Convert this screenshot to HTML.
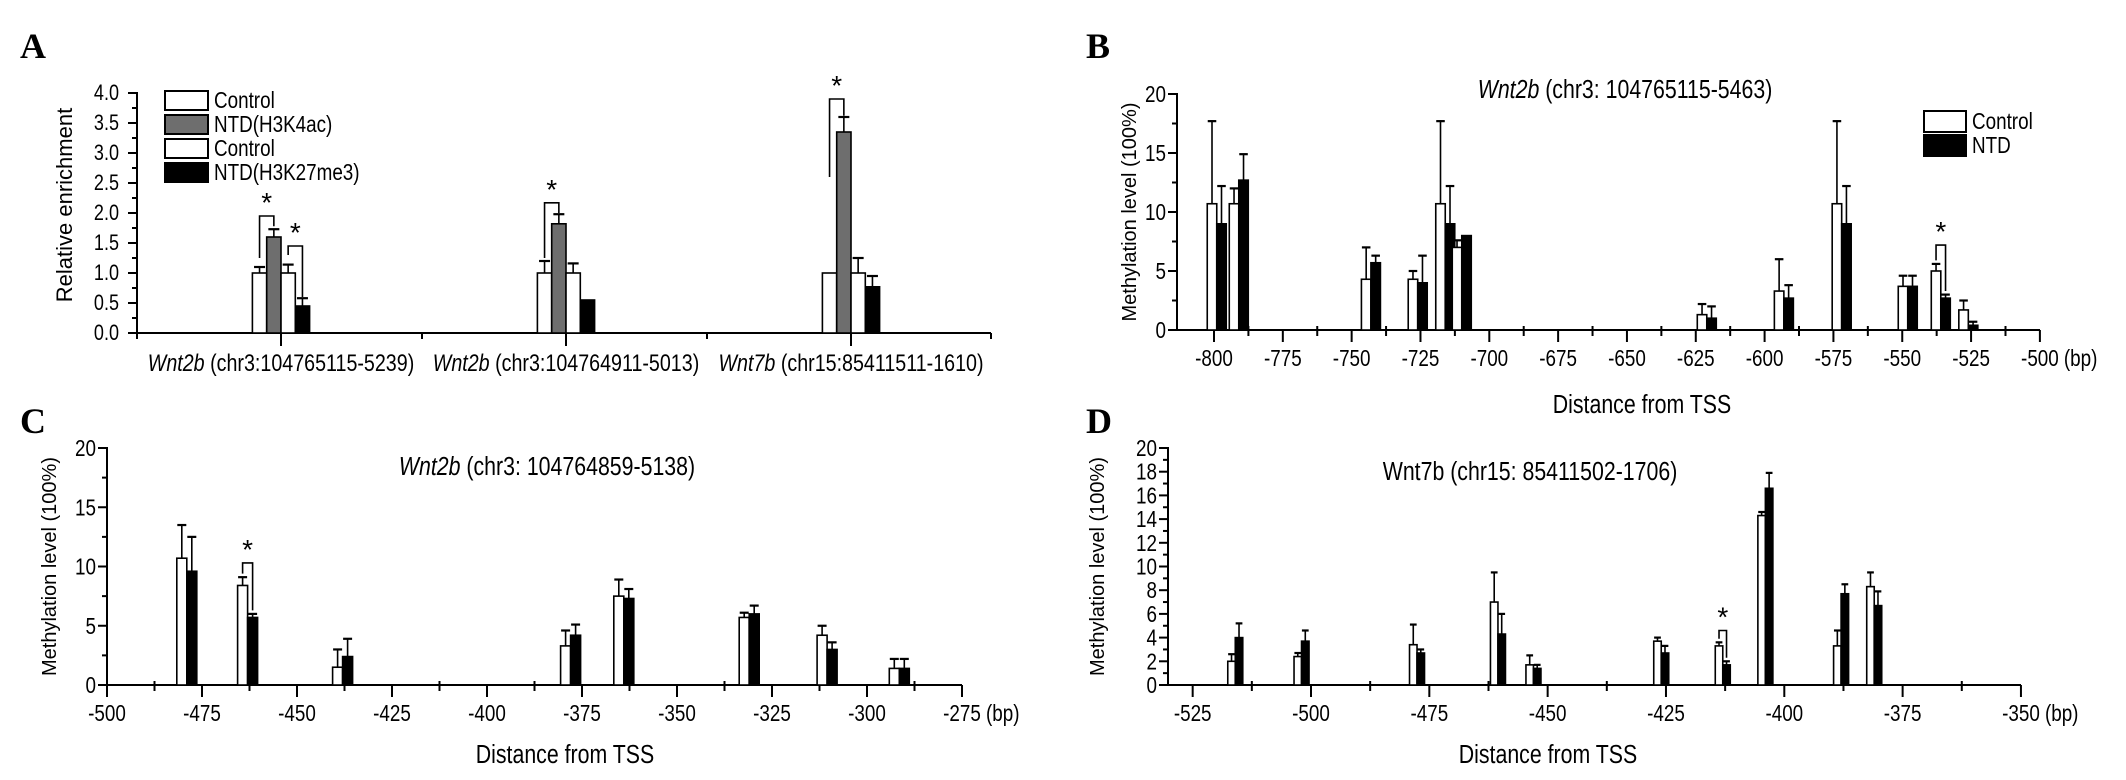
<!DOCTYPE html>
<html><head><meta charset="utf-8">
<style>
html,body{margin:0;padding:0;background:#fff;}
svg{display:block;}
.t{font-family:"Liberation Sans Narrow","Liberation Sans",Arial,sans-serif;fill:#000;}
.r{font-family:"Liberation Sans",Arial,sans-serif;fill:#000;}
.L{font-family:"Liberation Serif","Times New Roman",serif;font-weight:bold;fill:#000;}
</style></head>
<body>
<svg id="fig" width="2126" height="780" viewBox="0 0 2126 780" xmlns="http://www.w3.org/2000/svg"></svg>
<script>
// ---------- Panel A data ----------
const aCategories = ["Wnt2b|(chr3:104765115-5239)", "Wnt2b|(chr3:104764911-5013)", "Wnt7b|(chr15:85411511-1610)"];
const aCtrl1 = [1.0, 1.0, 1.0];
const aCtrl1Err = [0.10, 0.20, 0.0];
const aH3K4 = [1.60, 1.82, 3.35];
const aH3K4Err = [0.13, 0.16, 0.25];
const aCtrl2 = [1.0, 1.0, 1.0];
const aCtrl2Err = [0.14, 0.16, 0.25];
const aH3K27 = [0.45, 0.55, 0.77];
const aH3K27Err = [0.13, 0.0, 0.18];
const aYTicks = [0.0, 0.5, 1.0, 1.5, 2.0, 2.5, 3.0, 3.5, 4.0];
const aSigGroup = [0, 0, 1, 2];
const aSigLeftBar = [0, 2, 0, 0];
const aSigRightBar = [1, 3, 1, 1];
const aSigLeftFrom = [1.25, 1.30, 1.25, 2.6];
const aSigTop = [1.95, 1.45, 2.17, 3.9];
const aSigRightTo = [1.78, 0.60, 2.0, 3.62];

// ---------- Panel B data ----------
const bPos = [-799, -791, -743, -726, -716, -710, -621, -593, -572, -548, -536, -526];
const bCtrl = [10.7, 10.7, 4.3, 4.3, 10.7, 7.0, 1.3, 3.3, 10.7, 3.7, 5.0, 1.7];
const bCtrlSd = [7.0, 1.3, 2.7, 0.7, 7.0, 0.6, 0.9, 2.7, 7.0, 0.9, 0.6, 0.8];
const bNtd = [9.0, 12.7, 5.7, 4.0, 9.0, 8.0, 1.0, 2.7, 9.0, 3.7, 2.7, 0.4];
const bNtdSd = [3.2, 2.2, 0.6, 2.3, 3.2, 0.0, 1.0, 1.1, 3.2, 0.9, 0.3, 0.3];
const bXTicks = [-800, -775, -750, -725, -700, -675, -650, -625, -600, -575, -550, -525, -500];
const bYTicks = [0, 5, 10, 15, 20];
const bSig = [10];

// ---------- Panel C data ----------
const cPos = [-479, -463, -438, -378, -364, -331, -310.5, -291.5];
const cCtrl = [10.7, 8.4, 1.5, 3.3, 7.5, 5.7, 4.2, 1.4];
const cCtrlSd = [2.8, 0.7, 1.5, 1.3, 1.4, 0.4, 0.8, 0.8];
const cNtd = [9.6, 5.7, 2.4, 4.2, 7.3, 6.0, 3.0, 1.4];
const cNtdSd = [2.9, 0.3, 1.5, 0.9, 0.8, 0.7, 0.6, 0.8];
const cXTicks = [-500, -475, -450, -425, -400, -375, -350, -325, -300, -275];
const cYTicks = [0, 5, 10, 15, 20];
const cSig = [1];

// ---------- Panel D data ----------
const dPos = [-516, -502, -477.6, -460.5, -453, -426, -413, -404, -388, -381];
const dCtrl = [2.0, 2.4, 3.4, 7.0, 1.7, 3.7, 3.3, 14.3, 3.3, 8.3];
const dCtrlSd = [0.6, 0.3, 1.7, 2.5, 0.8, 0.3, 0.3, 0.3, 1.3, 1.2];
const dNtd = [4.0, 3.7, 2.7, 4.3, 1.4, 2.7, 1.7, 16.6, 7.7, 6.7];
const dNtdSd = [1.2, 0.9, 0.3, 1.7, 0.3, 0.6, 0.3, 1.3, 0.8, 1.2];
const dXTicks = [-525, -500, -475, -450, -425, -400, -375, -350];
const dYTicks = [0, 2, 4, 6, 8, 10, 12, 14, 16, 18, 20];
const dSig = [6];

const NS = 'http://www.w3.org/2000/svg';
const svg = document.getElementById('fig');
function mk(tag, attrs, parent) {
  const e = document.createElementNS(NS, tag);
  for (const k in attrs) e.setAttribute(k, attrs[k]);
  (parent || svg).appendChild(e);
  return e;
}
function line(x1, y1, x2, y2, w, name) {
  const e = mk('line', {x1: x1, y1: y1, x2: x2, y2: y2, stroke: '#000', 'stroke-width': w || 2});
  
  
  return e;
}
function text(str, x, y, size, cls, anchor, name, extra) {
  let attrs;
  if (cls === 't') {
    attrs = {x: 0, y: 0, 'font-size': size, 'class': cls, 'text-anchor': anchor || 'middle', transform: 'translate(' + x + ',' + y + ') scale(0.82,1)'};
  } else {
    attrs = {x: x, y: y, 'font-size': size, 'class': cls, 'text-anchor': anchor || 'middle'};
  }
  const e = mk('text', attrs);
  if (extra) for (const k in extra) e.setAttribute(k, extra[k]);
  e.textContent = str;
  
  
  return e;
}
function bar(x, y0, yv, w, fill, name) {
  const top = Math.min(y0, yv), h = Math.abs(y0 - yv);
  const e = mk('rect', {x: x, y: top, width: w, height: h, fill: fill, stroke: '#000', 'stroke-width': 1.6});
  
  
  return e;
}
function errbar(cx, yTop, yErr, cap, name) {
  if (Math.abs(yTop - yErr) < 0.5) return;
  const g = mk('g', {});
  
  
  mk('line', {x1: cx, y1: yTop, x2: cx, y2: yErr, stroke: '#000', 'stroke-width': 1.6}, g);
  mk('line', {x1: cx - cap / 2, y1: yErr, x2: cx + cap / 2, y2: yErr, stroke: '#000', 'stroke-width': 2.2}, g);
}
function bracket(xl, yl, yt, xr, yr, name) {
  const p = mk('path', {d: 'M' + xl + ' ' + yl + ' L' + xl + ' ' + yt + ' L' + xr + ' ' + yt + ' L' + xr + ' ' + yr, fill: 'none', stroke: '#000', 'stroke-width': 1.6});
  
  
  text('*', (xl + xr) / 2, yt - 4, 28, 'r', 'middle', 'significance-star');
}

// ================= Panel A =================
(function () {
  const yA = v => 333 - 60 * v;
  const centers = [281, 566, 851];
  const w = 14.3;
  text('A', 20, 58, 36, 'L', 'start', 'panel-label-a');
  line(137, yA(4.0) - 1, 137, yA(0) + 1, 2, 'a-y-axis');
  line(137, yA(0), 991, yA(0), 2, 'a-x-axis');
  for (let v = 0; v <= 4.0001; v += 0.25) {
    const major = Math.abs(v * 2 - Math.round(v * 2)) < 1e-6;
    line(137 - (major ? 9 : 5), yA(v), 137, yA(v), 2, 'a-y-tick');
  }
  aYTicks.forEach(v => text(v.toFixed(1), 119, yA(v) + 7, 22, 't', 'end', 'a-y-tick-label'));
  text('Relative enrichment', 0, 0, 22, 'r', 'middle', 'a-y-axis-title', {transform: 'translate(72,' + 205 + ') rotate(-90)'});
  [137, 422, 707, 991].forEach(x => line(x, yA(0), x, yA(0) + 6, 2, 'a-x-minor-tick'));
  centers.forEach(x => line(x, yA(0), x, yA(0) + 13, 2, 'a-x-tick'));
  aCategories.forEach((c, i) => {
    const parts = c.split('|');
    const t = text('', centers[i], 371, 24, 't', 'middle', 'a-category-label');
    const it = mk('tspan', {'font-style': 'italic'}, t); it.textContent = parts[0];
    
    
    const rt = mk('tspan', {}, t); rt.textContent = ' ' + parts[1];
    
    
  });
  const series = [[aCtrl1, aCtrl1Err, '#fff'], [aH3K4, aH3K4Err, '#6e6e6e'], [aCtrl2, aCtrl2Err, '#fff'], [aH3K27, aH3K27Err, '#000']];
  const names = ['a-bar-control-h3k4ac', 'a-bar-ntd-h3k4ac', 'a-bar-control-h3k27me3', 'a-bar-ntd-h3k27me3'];
  centers.forEach((c, g) => {
    series.forEach((s, k) => {
      const x = c + (k - 2) * w;
      errbar(x + w / 2, yA(s[0][g]), yA(s[0][g] + s[1][g]), 11, 'a-error-bar');
      bar(x, yA(0), yA(s[0][g]), w, s[2], names[k]);
    });
  });
  aSigGroup.forEach((g, i) => {
    const xl = centers[g] + (aSigLeftBar[i] - 2) * w + w / 2;
    const xr = centers[g] + (aSigRightBar[i] - 2) * w + w / 2;
    bracket(xl, yA(aSigLeftFrom[i]), yA(aSigTop[i]), xr, yA(aSigRightTo[i]), 'a-significance-bracket');
  });
  const legTxt = ['Control', 'NTD(H3K4ac)', 'Control', 'NTD(H3K27me3)'];
  const legFill = ['#fff', '#6e6e6e', '#fff', '#000'];
  legTxt.forEach((t, i) => {
    const r = mk('rect', {x: 165, y: 91 + i * 24, width: 43, height: 19, fill: legFill[i], stroke: '#000', 'stroke-width': 2});
    
    
    text(t, 214, 108 + i * 24, 23, 't', 'start', 'legend-entry');
  });
})();

// ============ generic methylation panel ============
function methPanel(o) {
  const X = bp => o.x0 + (bp - o.bp0) * o.k;
  const Y = v => o.y0 - o.ky * v;
  text(o.letter, o.lx, o.ly, 36, 'L', 'start', 'panel-label-' + o.letter.toLowerCase());
  line(o.axL, Y(0), o.axR, Y(0), 2, o.id + '-x-axis');
  line(o.axL, Y(20) - 1, o.axL, Y(0) + 1, 2, o.id + '-y-axis');
  for (let v = 0; v <= 20.0001; v += o.yMinor) {
    const major = o.yTicks.indexOf(Math.round(v * 100) / 100) >= 0;
    line(o.axL - (major ? 9 : 5), Y(v), o.axL, Y(v), 2, o.id + '-y-tick');
  }
  o.yTicks.forEach(v => text(String(v), o.axL - 11, Y(v) + 8, 23, 't', 'end', o.id + '-y-tick-label'));
  o.xTicks.forEach((t, i) => {
    line(X(t), Y(0), X(t), Y(0) + 12, 2, o.id + '-x-tick');
    if (i < o.xTicks.length - 1) line(X(t + 12.5), Y(0) - 4, X(t + 12.5), Y(0) + 6, 2, o.id + '-x-minor-tick');
    text(String(t), X(t), Y(0) + 36, 23, 't', 'middle', o.id + '-x-tick-label');
  });
  const last = o.xTicks[o.xTicks.length - 1];
  text('(bp)', X(last) + 24, Y(0) + 36, 23, 't', 'start', o.id + '-x-unit');
  text('Distance from TSS', o.axisTitleX, o.axisTitleY, 26, 't', 'middle', o.id + '-x-axis-title');
  text('Methylation level (100%)', 0, 0, 20, 'r', 'middle', o.id + '-y-axis-title', {transform: 'translate(' + o.ylabX + ',' + Y(10) + ') rotate(-90)'});
  const tt = text('', o.titleX, o.titleY, 26, 't', 'middle', o.id + '-chart-title');
  const g1 = mk('tspan', o.italic ? {'font-style': 'italic'} : {}, tt); g1.textContent = o.gene;
  
  
  const g2 = mk('tspan', {}, tt); g2.textContent = ' ' + o.locus;
  
  
  const w = o.bw;
  o.pos.forEach((p, i) => {
    const c = X(p);
    errbar(c - w / 2, Y(o.ctrl[i]), Y(o.ctrl[i] + o.ctrlSd[i]), w * 0.9, o.id + '-error-bar-control');
    errbar(c + w / 2, Y(o.ntd[i]), Y(o.ntd[i] + o.ntdSd[i]), w * 0.9, o.id + '-error-bar-ntd');
    bar(c - w, Y(0), Y(o.ctrl[i]), w, '#fff', o.id + '-bar-control');
    bar(c, Y(0), Y(o.ntd[i]), w, '#000', o.id + '-bar-ntd');
  });
  o.sig.forEach(i => {
    const c = X(o.pos[i]);
    const topA = o.ctrl[i] + o.ctrlSd[i], topB = o.ntd[i] + o.ntdSd[i];
    const top = Math.max(topA, topB) + o.sigGap;
    bracket(c - w / 2, Y(topA + 0.3), Y(top), c + w / 2, Y(topB + 0.3), o.id + '-significance-bracket');
  });
}

methPanel({id: 'b', letter: 'B', lx: 1086, ly: 58, x0: 1214, bp0: -800, k: 2.753, y0: 330, ky: 11.8,
  axL: 1177, axR: 2040, yMinor: 2.5, yTicks: bYTicks, xTicks: bXTicks, ylabX: 1136,
  axisTitleX: 1642, axisTitleY: 413, titleX: 1625, titleY: 98, italic: true, gene: 'Wnt2b', locus: '(chr3: 104765115-5463)',
  pos: bPos, ctrl: bCtrl, ctrlSd: bCtrlSd, ntd: bNtd, ntdSd: bNtdSd, bw: 9.5, sig: bSig, sigGap: 1.6});

methPanel({id: 'c', letter: 'C', lx: 20, ly: 433, x0: 107, bp0: -500, k: 3.8, y0: 685, ky: 11.85,
  axL: 107, axR: 962, yMinor: 2.5, yTicks: cYTicks, xTicks: cXTicks, ylabX: 56,
  axisTitleX: 565, axisTitleY: 763, titleX: 547, titleY: 475, italic: true, gene: 'Wnt2b', locus: '(chr3: 104764859-5138)',
  pos: cPos, ctrl: cCtrl, ctrlSd: cCtrlSd, ntd: cNtd, ntdSd: cNtdSd, bw: 10, sig: cSig, sigGap: 1.2});

methPanel({id: 'd', letter: 'D', lx: 1086, ly: 433, x0: 1311, bp0: -500, k: 4.733, y0: 685, ky: 11.85,
  axL: 1168, axR: 2021, yMinor: 1, yTicks: dYTicks, xTicks: dXTicks, ylabX: 1104,
  axisTitleX: 1548, axisTitleY: 763, titleX: 1530, titleY: 480, italic: false, gene: 'Wnt7b', locus: '(chr15: 85411502-1706)',
  pos: dPos, ctrl: dCtrl, ctrlSd: dCtrlSd, ntd: dNtd, ntdSd: dNtdSd, bw: 7.5, sig: dSig, sigGap: 1.0});

(function () {
  const t = ['Control', 'NTD'], f = ['#fff', '#000'];
  t.forEach((s, i) => {
    const r = mk('rect', {x: 1924, y: 111 + i * 24, width: 42, height: 21, fill: f[i], stroke: '#000', 'stroke-width': 2});
    
    
    text(s, 1972, 129 + i * 24, 23, 't', 'start', 'legend-entry');
  });
})();
</script>
</body></html>
